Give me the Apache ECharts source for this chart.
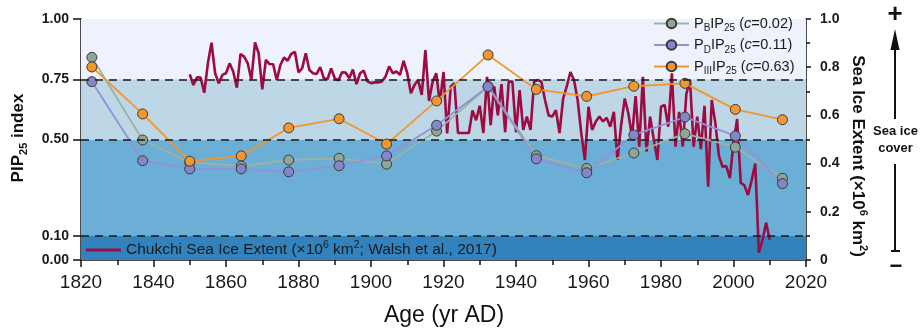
<!DOCTYPE html>
<html>
<head>
<meta charset="utf-8">
<title>PIP25 index and Chukchi Sea ice extent</title>
<script src="https://cdn.jsdelivr.net/npm/echarts@6/dist/echarts.min.js"></script>
<style>
  html, body { margin: 0; padding: 0; background: #fff; }
  #chart { width: 920px; height: 331px; }
</style>
</head>
<body>
<div id="chart"></div>
<script>
// sample ages of the core (yr AD)
var sampleYears = [1823, 1837, 1850, 1864.2, 1877.3, 1891.2, 1904.3, 1918.1, 1932.3, 1945.6, 1959.5, 1972.5, 1986.6, 2000.5, 2013.5];
// PIP25 indices
var pbValues   = [0.841, 0.498, 0.405, 0.390, 0.415, 0.422, 0.398, 0.535, 0.720, 0.433, 0.380, 0.444, 0.524, 0.468, 0.339];
var pdValues   = [0.740, 0.412, 0.378, 0.378, 0.366, 0.391, 0.432, 0.559, 0.719, 0.420, 0.362, 0.519, 0.593, 0.515, 0.317];
var piiiValues = [0.801, 0.606, 0.410, 0.432, 0.548, 0.586, 0.481, 0.660, 0.851, 0.708, 0.679, 0.721, 0.733, 0.625, 0.582];

// Chukchi sea ice extent (x10^6 km2), one value per year from 1850
var iceStartYear = 1850;
var iceValues = [
  0.770, 0.726, 0.758, 0.757, 0.694, 0.816, 0.902, 0.775, 0.733, 0.768,
  0.775, 0.816, 0.781, 0.715, 0.855, 0.844, 0.816, 0.747, 0.903, 0.858,
  0.708, 0.830, 0.813, 0.812, 0.747, 0.809, 0.840, 0.827, 0.855, 0.864,
  0.779, 0.795, 0.858, 0.788, 0.775, 0.772, 0.800, 0.754, 0.750, 0.795,
  0.754, 0.745, 0.779, 0.778, 0.754, 0.790, 0.730, 0.775, 0.786, 0.741,
  0.734, 0.737, 0.737, 0.741, 0.761, 0.803, 0.775, 0.782, 0.768, 0.826,
  0.775, 0.692, 0.726, 0.747, 0.685, 0.871, 0.660, 0.740, 0.775, 0.650,
  0.780, 0.525, 0.720, 0.733, 0.527, 0.527, 0.527, 0.527, 0.620, 0.580,
  0.640, 0.527, 0.760, 0.560, 0.720, 0.600, 0.730, 0.530, 0.740, 0.740,
  0.530, 0.705, 0.540, 0.595, 0.540, 0.740, 0.747, 0.740, 0.664, 0.600,
  0.595, 0.622, 0.527, 0.670, 0.720, 0.780, 0.747, 0.664, 0.527, 0.415,
  0.636, 0.540, 0.574, 0.595, 0.575, 0.590, 0.553, 0.615, 0.415, 0.560,
  0.670, 0.608, 0.512, 0.680, 0.470, 0.760, 0.450, 0.595, 0.500, 0.415,
  0.636, 0.643, 0.553, 0.775, 0.470, 0.615, 0.470, 0.690, 0.747, 0.470,
  0.595, 0.460, 0.640, 0.304, 0.664, 0.567, 0.430, 0.387, 0.390, 0.340,
  0.485, 0.585, 0.320, 0.310, 0.270, 0.330, 0.400, 0.030, 0.083, 0.155,
  0.083
];

// axis ticks
var leftTicks = [0, 0.1, 0.5, 0.75, 1];
var bandLimits = [0, 0.1, 0.5, 0.75, 1];
var bandColors = ['#3182bd', '#6baed6', '#bdd7e7', '#eef2fc'];
var dashedLevels = [0.1, 0.5, 0.75];

var FONT = '"Liberation Sans", Arial, Helvetica, sans-serif';

function pairs(xs, ys) {
  return ys.map(function (v, i) { return [xs[i], v]; });
}
var iceData = iceValues.map(function (v, i) { return [iceStartYear + i, v]; });

var legendText = {
  'PB': '{n|P}{s|B}{n|IP}{s|25}{n| (}{i|c}{n|=0.02)}',
  'PD': '{n|P}{s|D}{n|IP}{s|25}{n| (}{i|c}{n|=0.11)}',
  'PIII': '{n|P}{s|III}{n|IP}{s|25}{n| (}{i|c}{n|=0.63)}',
  'ice': '{n|Chukchi Sea Ice Extent (×10}{p|6}{n| km}{p|2}{n|; Walsh et al., 2017)}'
};
function legendRich(size) {
  var sub = Math.round(size * 0.68 * 2) / 2;
  return {
    n: { fontSize: size, lineHeight: 20, color: '#1a1a1a', fontFamily: FONT },
    i: { fontSize: size, lineHeight: 20, color: '#1a1a1a', fontFamily: FONT, fontStyle: 'italic' },
    s: { fontSize: sub, lineHeight: 10, color: '#1a1a1a', fontFamily: FONT, verticalAlign: 'bottom' },
    p: { fontSize: sub, lineHeight: 10, color: '#1a1a1a', fontFamily: FONT, verticalAlign: 'top' }
  };
}
var titleRich = {
  b: { fontSize: 17, lineHeight: 22, fontWeight: 'bold', fontFamily: FONT },
  bs: { fontSize: 11, lineHeight: 11, fontWeight: 'bold', fontFamily: FONT, verticalAlign: 'bottom' },
  bp: { fontSize: 11, lineHeight: 11, fontWeight: 'bold', fontFamily: FONT, verticalAlign: 'top' }
};

var bands = [];
for (var k = 0; k < bandColors.length; k++) {
  bands.push([{ yAxis: bandLimits[k], itemStyle: { color: bandColors[k] } }, { yAxis: bandLimits[k + 1] }]);
}

function pipSeries(name, data, fill, line) {
  return {
    name: name,
    type: 'line',
    yAxisIndex: 0,
    data: data,
    symbol: 'circle',
    symbolSize: 10,
    lineStyle: { color: line, width: 1.8 },
    itemStyle: { color: fill, borderColor: '#3a3a3a', borderWidth: 1 },
    z: 3
  };
}

var chart = echarts.init(document.getElementById('chart'));
chart.setOption({
  animation: false,
  grid: { left: 81, right: 114, top: 19, bottom: 71 },
  xAxis: {
    type: 'value', min: 1820, max: 2020, interval: 20,
    axisLine: { lineStyle: { color: '#111', width: 1.5 } },
    axisTick: { length: 7, lineStyle: { color: '#111', width: 1.5 } },
    minorTick: { show: true, splitNumber: 2, length: 5, lineStyle: { color: '#111', width: 1.5 } },
    axisLabel: {
      fontSize: 19, color: '#1a1a1a', margin: 13, fontFamily: FONT,
      formatter: function (v) { return String(v); }
    },
    splitLine: { show: false }
  },
  yAxis: [{
    type: 'value', min: 0, max: 1, position: 'left',
    axisLine: { show: true, lineStyle: { color: '#111', width: 1.5 } },
    axisTick: { show: true, length: 8, customValues: leftTicks, lineStyle: { color: '#111', width: 1.5 } },
    axisLabel: {
      customValues: leftTicks, fontSize: 14, fontWeight: 'bold', color: '#1a1a1a', margin: 12, fontFamily: FONT,
      formatter: function (v) { return v.toFixed(2); }
    },
    splitLine: { show: false }
  }, {
    type: 'value', min: 0, max: 1, interval: 0.2, position: 'right',
    axisLine: { show: true, lineStyle: { color: '#111', width: 1.5 } },
    axisTick: { show: true, length: 5, lineStyle: { color: '#111', width: 1.5 } },
    minorTick: { show: true, splitNumber: 2, length: 4, lineStyle: { color: '#111', width: 1.5 } },
    axisLabel: {
      fontSize: 14, fontWeight: 'bold', color: '#1a1a1a', margin: 14, fontFamily: FONT,
      formatter: function (v) { return v === 0 ? '0' : v.toFixed(1); }
    },
    splitLine: { show: false }
  }],
  legend: [{
    data: ['PB', 'PD', 'PIII'],
    orient: 'vertical', left: 653, top: 16, padding: 0,
    itemWidth: 35, itemHeight: 12, itemGap: 4,
    formatter: function (name) { return legendText[name]; },
    textStyle: { rich: legendRich(14.5) }
  }, {
    data: ['ice'],
    icon: 'rect',
    left: 86, top: 240, padding: 0,
    itemWidth: 35, itemHeight: 3,
    formatter: function (name) { return legendText[name]; },
    textStyle: { rich: legendRich(15.5) }
  }],
  graphic: [
    { type: 'text', x: 18, y: 138, rotation: Math.PI / 2, silent: true,
      style: { text: '{b|PIP}{bs|25}{b| index}', rich: titleRich, fill: '#111', align: 'center', verticalAlign: 'middle' } },
    { type: 'text', x: 858, y: 156, rotation: -Math.PI / 2, silent: true,
      style: { text: '{b|Sea Ice Extent (×10}{bp|6}{b| km}{bp|2}{b|)}', rich: titleRich, fill: '#111', align: 'center', verticalAlign: 'middle' } },
    { type: 'text', x: 444, y: 316, silent: true,
      style: { text: 'Age (yr AD)', font: '23px ' + FONT, fill: '#111', align: 'center', verticalAlign: 'middle' } },
    { type: 'text', x: 895, y: 15, silent: true,
      style: { text: '+', font: 'bold 26px ' + FONT, fill: '#111', align: 'center', verticalAlign: 'middle' } },
    { type: 'text', x: 896, y: 267, silent: true,
      style: { text: '−', font: 'bold 22px ' + FONT, fill: '#111', align: 'center', verticalAlign: 'middle' } },
    { type: 'line', silent: true, shape: { x1: 895, y1: 48, x2: 895, y2: 119 }, style: { stroke: '#111', lineWidth: 2 } },
    { type: 'polygon', silent: true, shape: { points: [[895, 29], [890.5, 50], [899.5, 50]] }, style: { fill: '#111' } },
    { type: 'line', silent: true, shape: { x1: 895, y1: 164, x2: 895, y2: 251 }, style: { stroke: '#111', lineWidth: 2 } },
    { type: 'line', silent: true, shape: { x1: 891, y1: 251, x2: 900, y2: 251 }, style: { stroke: '#111', lineWidth: 2 } },
    { type: 'text', x: 895.5, y: 131, silent: true,
      style: { text: 'Sea ice', font: 'bold 13px ' + FONT, fill: '#111', align: 'center', verticalAlign: 'middle' } },
    { type: 'text', x: 895.5, y: 148, silent: true,
      style: { text: 'cover', font: 'bold 13px ' + FONT, fill: '#111', align: 'center', verticalAlign: 'middle' } }
  ],
  series: [{
    name: 'ice',
    type: 'line',
    yAxisIndex: 1,
    data: iceData,
    showSymbol: false,
    symbol: 'none',
    lineStyle: { color: '#9e0a42', width: 2.6 },
    itemStyle: { color: '#9e0a42' },
    z: 2,
    markArea: { silent: true, data: bands },
    markLine: {
      silent: true, symbol: 'none',
      label: { show: false },
      lineStyle: { color: '#1a1a1a', type: [8, 6], width: 1.5 },
      data: dashedLevels.map(function (v) { return { yAxis: v }; })
    }
  },
    pipSeries('PB', pairs(sampleYears, pbValues), '#8fa596', '#9cb2a3'),
    pipSeries('PD', pairs(sampleYears, pdValues), '#8585c9', '#9292d4'),
    pipSeries('PIII', pairs(sampleYears, piiiValues), '#f29630', '#f3952c')
  ]
});
</script>
</body>
</html>
